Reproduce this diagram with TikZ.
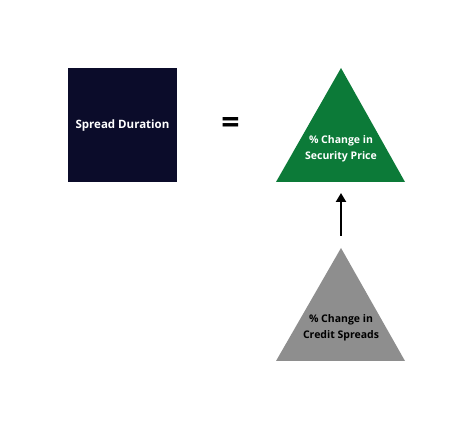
\documentclass[tikz,border=0pt]{standalone}
\usepackage{fontspec}
\setmainfont{Open Sans}
\usetikzlibrary{arrows.meta}

\definecolor{navy}{RGB}{11,12,42}
\definecolor{pricegreen}{RGB}{12,122,56}
\definecolor{spreadgray}{RGB}{142,142,142}

\begin{document}
\begin{tikzpicture}[x=1pt,y=-1pt,>={Triangle[length=9pt,width=10pt]},
    lbl/.style={font=\bfseries\fontsize{10.5}{16}\selectfont,align=center,inner sep=0pt}]
            \useasboundingbox (0,0) rectangle (474,430);

            % box on the left
            \fill[navy] (68,68) rectangle (177,182);
            \node[lbl,text=white,font=\bfseries\fontsize{11.5}{14}\selectfont] (dur) at (122.5,126) {Spread Duration};

            \node[font=\bfseries\fontsize{32}{32}\selectfont] (eq) at (230.5,126) {=};

            % triangles
            \fill[pricegreen] (341,68) -- (405,182) -- (276,182) -- cycle;
            \fill[spreadgray] (341,248) -- (405,361) -- (276,361) -- cycle;
            \coordinate (top) at (341,193);
            \coordinate (bot) at (341,236);

            \node[lbl,text=white] (price) at (341,148.5) {\% Change in\\Security Price};
            \node[lbl,text=black] (spreads) at (341,327.5) {\% Change in\\Credit Spreads};

            \path
            (bot)   edge[->,line width=2.4pt] (top);
        \end{tikzpicture}
\end{document}
